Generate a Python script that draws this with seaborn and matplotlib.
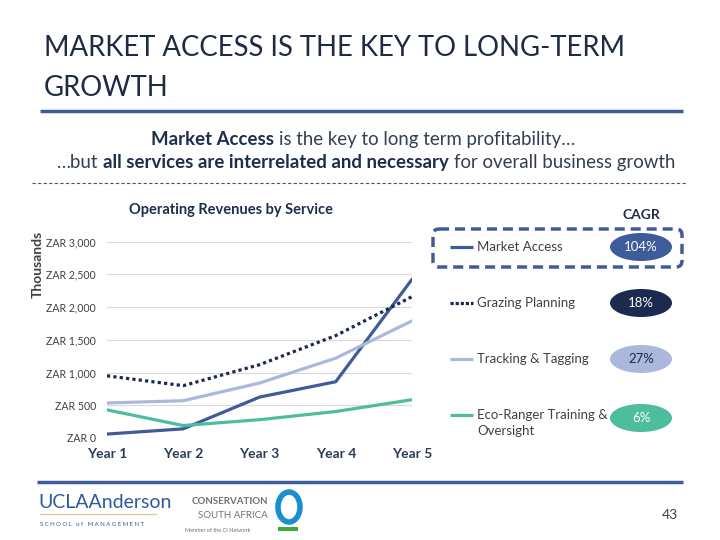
import matplotlib
matplotlib.use("Agg")
import matplotlib.pyplot as plt
from matplotlib.patches import Ellipse, FancyBboxPatch, Rectangle
import numpy as np
import pandas as pd
import seaborn as sns

# ---------------- data ----------------
years = ["Year 1", "Year 2", "Year 3", "Year 4", "Year 5"]
market_access = [60, 140, 625, 860, 2425]
grazing_planning = [950, 800, 1120, 1565, 2160]
tracking_tagging = [535, 570, 840, 1220, 1790]
eco_ranger = [430, 190, 280, 405, 585]
services = ["Market Access", "Grazing Planning", "Tracking & Tagging",
            "Eco-Ranger Training & Oversight"]
legend_labels = ["Market Access", "Grazing Planning", "Tracking & Tagging",
                 "Eco-Ranger Training &\nOversight"]
cagr = ["104%", "18%", "27%", "6%"]
y_ticks = [0, 500, 1000, 1500, 2000, 2500, 3000]
y_tick_labels = ["ZAR 0", "ZAR 500", "ZAR 1,000", "ZAR 1,500",
                 "ZAR 2,000", "ZAR 2,500", "ZAR 3,000"]

colors = ["#3E5C9A", "#1B2A4E", "#AAB8DC", "#4DBD9E"]
cagr_text_colors = ["white", "white", "#1B2A4E", "white"]

df = pd.DataFrame({
    "Year": years * 4,
    "Revenue": market_access + grazing_planning + tracking_tagging + eco_ranger,
    "Service": sum([[s] * len(years) for s in services], []),
})

sns.set_theme(style="white")
plt.rcParams["font.family"] = ["Lato", "DejaVu Sans"]

fig = plt.figure(figsize=(7.2, 5.4), dpi=100)
fig.patch.set_facecolor("white")

# overlay in pixel coordinates
ov = fig.add_axes([0, 0, 1, 1])
ov.set_xlim(0, 720)
ov.set_ylim(540, 0)
ov.axis("off")
ov.patch.set_alpha(0)

# ---------------- chart ----------------
ax = fig.add_axes([107 / 720, 1 - 438 / 540, (412 - 107) / 720, (438 - 241.7) / 540])
ax.patch.set_alpha(0)
palette = dict(zip(services, colors))
dashes = {services[0]: "", services[1]: (1, 1), services[2]: "", services[3]: ""}
sns.lineplot(data=df, x="Year", y="Revenue", hue="Service", style="Service",
             palette=palette, dashes=dashes, linewidth=2.3, legend=False,
             sort=False, ax=ax)
ax.set_xlim(0, 4)
ax.set_ylim(0, 3000)
ax.set_yticks(y_ticks)
ax.set_yticklabels(y_tick_labels, fontsize=7.6, color="#404040")
ax.set_xticks(range(len(years)))
ax.set_xticklabels(years, fontsize=10, fontweight="bold", color="#2B3A55")
ax.tick_params(axis="y", length=0, pad=8)
ax.tick_params(axis="x", length=0, pad=7)
ax.grid(axis="y", color="#D9D9D9", linewidth=0.8)
ax.set_axisbelow(True)
for sp in ax.spines.values():
    sp.set_visible(False)
ax.set_xlabel("")
ax.set_ylabel("")

# ---------------- title / texts ----------------
title_color = "#1F2A44"
ov.text(44, 48, "MARKET ACCESS IS THE KEY TO LONG-TERM", fontsize=19.8,
        color=title_color, va="center", ha="left")
ov.text(44, 88, "GROWTH", fontsize=19.8, color=title_color,
        va="center", ha="left")
ov.plot([40, 683], [111, 111], color="#3E5C9A", linewidth=2.5, solid_capstyle="butt")

renderer = fig.canvas.get_renderer()


def mixed_line(y, segments, cx, size):
    probe1 = ov.text(0, 0, "x x", fontsize=size)
    probe2 = ov.text(0, 0, "xx", fontsize=size)
    space = (probe1.get_window_extent(renderer).width -
             probe2.get_window_extent(renderer).width)
    probe1.remove()
    probe2.remove()
    texts = []
    for s, w, c in segments:
        t = ov.text(0, y, s, fontsize=size, fontweight=w, color=c,
                    va="baseline", ha="left")
        texts.append(t)
    widths = [t.get_window_extent(renderer).width for t in texts]
    total = sum(widths) + space * (len(widths) - 1)
    x = cx - total / 2
    for t, w in zip(texts, widths):
        t.set_x(x)
        x += w + space


navy = "#1F2D4D"
gray = "#333F50"
mixed_line(145, [("Market Access", "bold", navy),
                 ("is the key to long term profitability…", "normal", gray)], 363, 13.4)
mixed_line(168, [("…but", "normal", gray),
                 ("all services are interrelated and necessary", "bold", navy),
                 ("for overall business growth", "normal", gray)], 366, 13.4)
ov.plot([32, 687], [183, 183], color="#555555", linewidth=0.8,
        linestyle=(0, (3, 2)))

ov.text(231, 210, "Operating Revenues by Service", fontsize=10.5,
        fontweight="bold", color=navy, ha="center", va="center")
ov.text(38, 264, "Thousands", fontsize=10, fontweight="bold", color="#404040",
        rotation=90, ha="center", va="center")

# ---------------- legend + CAGR ----------------
ov.text(641, 215, "CAGR", fontsize=10, fontweight="bold", color=navy,
        ha="center", va="center")
leg_y = [247, 303, 359, 415]
ell_y = [247, 303, 359, 418]
for i in range(4):
    ls = (0, (1, 0.6)) if i == 1 else "-"
    ov.plot([450, 473], [leg_y[i], leg_y[i]], color=colors[i], linewidth=2.3,
            linestyle=ls, solid_capstyle="butt")
    lines = legend_labels[i].split("\n")
    for j, part in enumerate(lines):
        ov.text(477, leg_y[i] + 16 * j, part, fontsize=9.5, color="#404040",
                ha="left", va="center")
    ov.add_patch(Ellipse((641, ell_y[i]), 62, 28, facecolor=colors[i],
                         edgecolor="none"))
    ov.text(641, ell_y[i], cagr[i], fontsize=9.5, color=cagr_text_colors[i],
            ha="center", va="center")

ov.add_patch(FancyBboxPatch((433, 229), 249, 38,
                            boxstyle="round,pad=0,rounding_size=6",
                            facecolor="none", edgecolor="#3E5C9A",
                            linewidth=2.5, linestyle=(0, (2.9, 1.7))))

# ---------------- footer ----------------
ov.plot([37, 683], [482, 482], color="#3E5C9A", linewidth=2.5, solid_capstyle="butt")
ov.text(38, 503, "UCLAAnderson", fontsize=14, color="#2C5A9E", ha="left",
        va="center")
ov.plot([40, 156], [514, 514], color="#D8C9A0", linewidth=1.0)
ov.text(40, 524, "S C H O O L   o f   M A N A G E M E N T", fontsize=4.3,
        color="#2C5A9E", ha="left", va="center")
ov.text(268, 502, "CONSERVATION", fontsize=7, fontweight="bold",
        color="#707070", ha="right", va="center")
ov.text(268, 515, "SOUTH AFRICA", fontsize=7, color="#707070", ha="right",
        va="center")
ov.text(185, 530, "Member of the CI Network", fontsize=4, color="#707070",
        ha="left", va="center")
ov.add_patch(Rectangle((278, 527), 20, 4, facecolor="#3DAA3D", edgecolor="none"))
ov.add_patch(Ellipse((289, 507), 22, 30, facecolor="none", edgecolor="#1A8FD0",
                     linewidth=4))
ov.text(670, 515, "43", fontsize=10, color="#404040", ha="center", va="center")

fig.savefig("out.png", dpi=100)
